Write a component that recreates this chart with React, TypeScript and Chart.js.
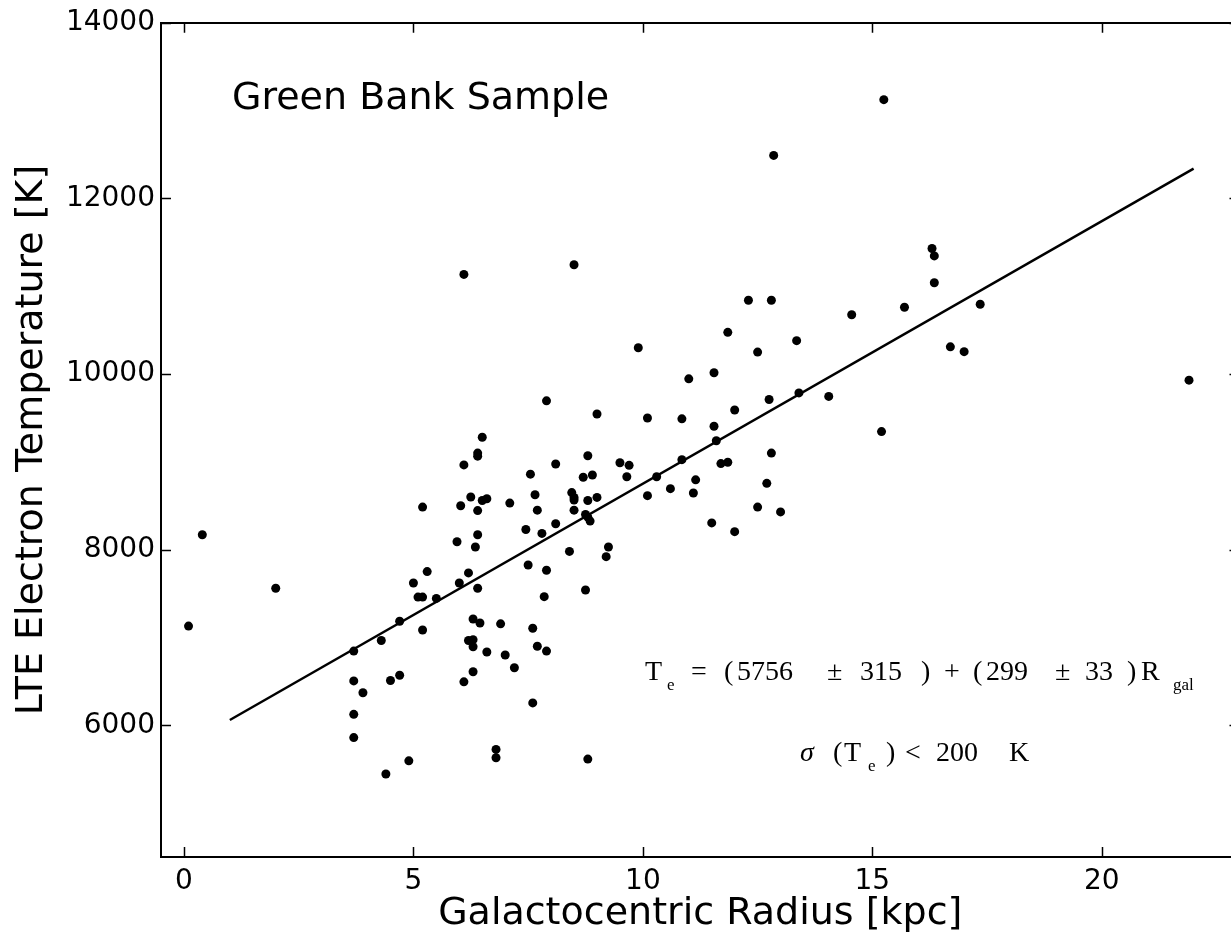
import React, { useEffect, useRef } from "react";
import { Chart, registerables } from "chart.js";

Chart.register(...registerables);

// ---- data ----
const radiusKpc = [
  0.1, 0.4, 2.0, 3.7, 3.7, 3.9, 3.7, 3.7, 4.4, 4.9,
  4.3, 4.5, 4.7, 4.7, 5.0, 5.1, 5.2, 5.2, 5.3, 5.2,
  5.5, 6.0, 5.95, 6.1, 6.03, 6.25, 6.4, 6.4, 6.5, 6.4,
  6.5, 6.6, 6.4, 6.35, 6.2, 6.4, 6.3, 6.45, 6.2, 6.3,
  6.3, 6.3, 6.1, 6.6, 6.9, 7.0, 7.2, 6.8, 6.8, 7.1,
  7.45, 7.5, 7.55, 7.65, 7.7, 7.8, 7.9, 7.85, 7.6, 7.7,
  7.9, 7.6, 7.9, 8.1, 8.1, 8.4, 8.45, 8.5, 8.5, 8.5,
  8.7, 8.8, 8.9, 8.8, 9.0, 8.75, 8.8, 8.85, 8.75, 8.8,
  9.0, 9.25, 9.2, 9.5, 9.7, 9.65, 10.1, 10.1, 10.3, 6.1,
  8.5, 9.9, 15.25, 12.85, 16.3, 16.35, 16.35, 12.3, 12.8, 14.55,
  15.7, 11.85, 12.5, 13.35, 11.0, 11.55, 12.75, 13.4, 14.05, 10.85,
  11.55, 12.0, 15.2, 11.6, 10.85, 11.15, 10.6, 11.1, 11.7, 11.85,
  12.8, 12.7, 12.5, 13.0, 11.5, 12.0, 17.35, 16.7, 17.0, 21.9,
];
const electronTempK = [
  7130, 8170, 7560, 6845, 6505, 6370, 6125, 5860, 5445, 5595,
  6965, 6510, 6570, 7185, 7620, 7460, 7460, 7085, 7750, 8485,
  7445, 7620, 8090, 8965, 8500, 8600, 9100, 9065, 9280, 8445,
  8560, 8580, 8170, 8030, 7735, 7560, 7210, 7165, 6965, 6975,
  6895, 6610, 6495, 6835, 7155, 6800, 6655, 5725, 5630, 8530,
  8230, 7825, 8860, 8625, 8450, 8185, 7765, 7465, 7105, 6900,
  6845, 6255, 9695, 8975, 8295, 7980, 8650, 8595, 8565, 8450,
  8825, 9070, 8850, 8560, 8595, 8400, 8370, 8325, 7540, 5615,
  9545, 8030, 7920, 8990, 8960, 8830, 8615, 9500, 8830, 11135,
  11245, 10300, 13125, 12490, 11430, 11345, 11040, 10840, 10840, 10675,
  10760, 10475, 10250, 10380, 9945, 10015, 9710, 9785, 9745, 9490,
  9405, 9590, 9345, 9240, 9025, 8795, 8695, 8645, 8980, 8995,
  9100, 8755, 8485, 8430, 8305, 8205, 10795, 10310, 10255, 9930,
];
const fitLineX = [1, 22];
const fitLineY = [6060, 12340];
const xTickValues = [0, 5, 10, 15, 20];
const yTickValues = [6000, 8000, 10000, 12000, 14000];

const SANS = "'DejaVu Sans', sans-serif";
const SERIF = "'Liberation Serif', 'Times New Roman', serif";

type Tok = { t: string; x: number; sub?: boolean; italic?: boolean };
const eqLine1: Tok[] = [
  { t: "T", x: 645 }, { t: "e", x: 667, sub: true }, { t: "=", x: 691 },
  { t: "(", x: 724 }, { t: "5756", x: 737 }, { t: "±", x: 827 },
  { t: "315", x: 860 }, { t: ")", x: 921 }, { t: "+", x: 944 },
  { t: "(", x: 973 }, { t: "299", x: 986 }, { t: "±", x: 1055 },
  { t: "33", x: 1085 }, { t: ")", x: 1127 }, { t: "R", x: 1141 },
  { t: "gal", x: 1173, sub: true },
];
const eqLine2: Tok[] = [
  { t: "σ", x: 800, italic: true }, { t: "(", x: 833 }, { t: "T", x: 844 },
  { t: "e", x: 868, sub: true }, { t: ")", x: 886 }, { t: "<", x: 905 },
  { t: "200", x: 936 }, { t: "K", x: 1009 },
];

const overlayPlugin = {
  id: "overlay",
  afterDraw(chart: any) {
    const { ctx, chartArea: ca, scales } = chart;
    const xs = scales.x;
    const ys = scales.y;
    ctx.save();
    ctx.strokeStyle = "#000";
    ctx.lineWidth = 1.5;
    ctx.beginPath();
    for (const v of xTickValues) {
      const px = Math.round(xs.getPixelForValue(v)) + 0.5;
      ctx.moveTo(px, ca.bottom);
      ctx.lineTo(px, ca.bottom - 10);
      ctx.moveTo(px, ca.top);
      ctx.lineTo(px, ca.top + 10);
    }
    for (const v of yTickValues) {
      const py = Math.round(ys.getPixelForValue(v)) + 0.5;
      ctx.moveTo(ca.left, py);
      ctx.lineTo(ca.left + 10, py);
      ctx.moveTo(ca.right, py);
      ctx.lineTo(ca.right - 10, py);
    }
    ctx.stroke();

    ctx.fillStyle = "#000";
    ctx.textBaseline = "alphabetic";
    ctx.textAlign = "left";
    ctx.font = `38px ${SANS}`;
    ctx.fillText("Green Bank Sample", 232, 109);

    const drawLine = (toks: Tok[], base: number) => {
      for (const k of toks) {
        if (k.sub) {
          ctx.font = `17px ${SERIF}`;
          ctx.fillText(k.t, k.x, base + 10);
        } else {
          ctx.font = `${k.italic ? "italic " : ""}28px ${SERIF}`;
          ctx.fillText(k.t, k.x, base);
        }
      }
    };
    drawLine(eqLine1, 680);
    drawLine(eqLine2, 761);
    ctx.restore();
  },
};

export default function App() {
  const ref = useRef<HTMLCanvasElement | null>(null);
  useEffect(() => {
    if (!ref.current) return;
    const points = radiusKpc.map((x, i) => ({ x, y: electronTempK[i] }));
    const fit = fitLineX.map((x, i) => ({ x, y: fitLineY[i] }));
    const chart = new Chart(ref.current, {
      type: "scatter",
      data: {
        datasets: [
          {
            label: "fit",
            data: fit,
            showLine: true,
            borderColor: "#000",
            borderWidth: 2.5,
            pointRadius: 0,
            order: 1,
          } as any,
          {
            label: "Green Bank",
            data: points,
            pointRadius: 4.5,
            pointBackgroundColor: "#000",
            pointBorderWidth: 0,
            backgroundColor: "#000",
            borderColor: "#000",
            order: 0,
          } as any,
        ],
      },
      options: {
        animation: false,
        responsive: false,
        devicePixelRatio: 1,
        layout: { padding: 0 },
        plugins: { legend: { display: false }, tooltip: { enabled: false } },
        scales: {
          x: {
            type: "linear",
            position: "bottom",
            min: -0.5,
            max: 23,
            afterBuildTicks: (s: any) => {
              s.ticks = xTickValues.map((v) => ({ value: v }));
            },
            afterFit: (s: any) => {
              s.height = 80;
            },
            ticks: {
              font: { family: SANS, size: 28 },
              color: "#000",
              padding: 8,
              maxRotation: 0,
              autoSkip: false,
              callback: (v: any) => String(v),
            },
            grid: { drawOnChartArea: false, drawTicks: false },
            border: { display: true, color: "#000", width: 2 },
            title: {
              display: true,
              text: "Galactocentric Radius [kpc]",
              font: { family: SANS, size: 38 },
              color: "#000",
              padding: { top: 0, bottom: 0 },
            },
          },
          x2: {
            type: "linear",
            position: "top",
            min: -0.5,
            max: 23,
            afterFit: (s: any) => {
              s.height = 21;
            },
            ticks: { display: false },
            grid: { drawOnChartArea: false, drawTicks: false },
            border: { display: true, color: "#000", width: 2 },
          },
          y: {
            type: "linear",
            position: "left",
            min: 4500,
            max: 14000,
            afterBuildTicks: (s: any) => {
              s.ticks = yTickValues.map((v) => ({ value: v }));
            },
            afterFit: (s: any) => {
              s.width = 161;
            },
            ticks: {
              font: { family: SANS, size: 28 },
              color: "#000",
              padding: 6,
              autoSkip: false,
              callback: (v: any) => String(v),
            },
            grid: { drawOnChartArea: false, drawTicks: false },
            border: { display: true, color: "#000", width: 2 },
            title: {
              display: true,
              text: "LTE Electron Temperature [K]",
              font: { family: SANS, size: 38 },
              color: "#000",
              padding: { top: 9, bottom: 0 },
            },
          },
        },
      } as any,
      plugins: [overlayPlugin],
    });
    return () => chart.destroy();
  }, []);

  return (
    <div
      style={{
        position: "fixed",
        left: 0,
        top: 0,
        width: 1231,
        height: 937,
        overflow: "hidden",
        background: "#fff",
      }}
    >
      <canvas ref={ref} width={1244} height={937} style={{ display: "block" }} />
    </div>
  );
}
